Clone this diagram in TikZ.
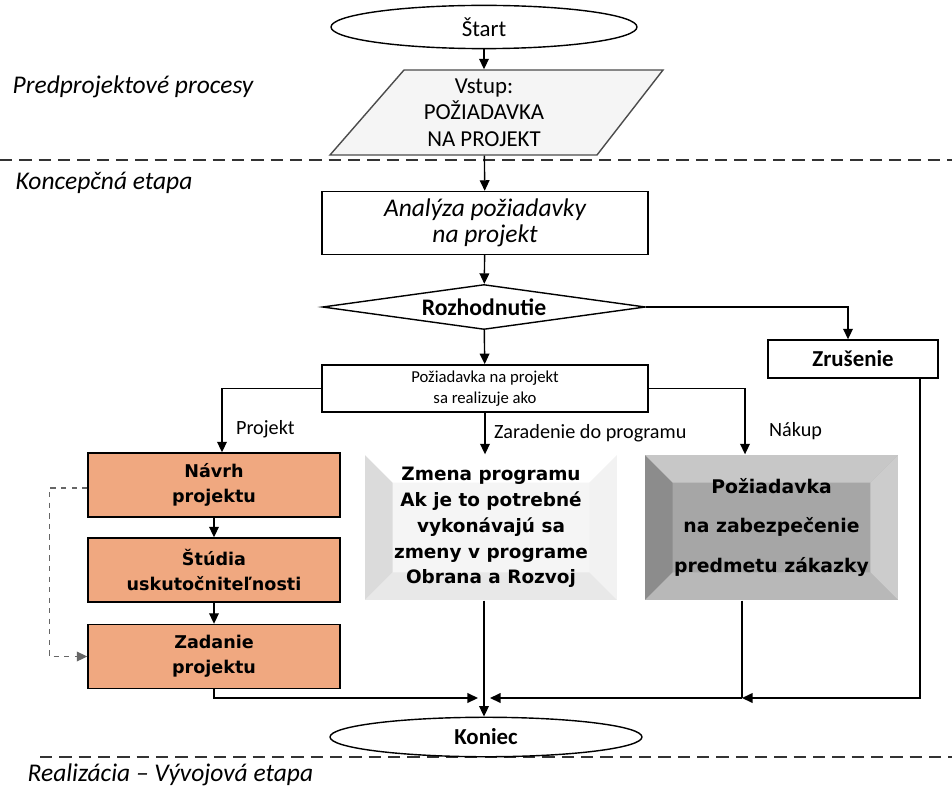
\documentclass[tikz,border=0pt]{standalone}
\usepackage{fontspec}
\setmainfont{Carlito}
\newfontfamily\boxfont{DejaVu Sans}
\usetikzlibrary{shapes.geometric,arrows.meta}
\definecolor{oranzova}{RGB}{240,168,128}
\tikzset{
  krok/.style={draw, rectangle, minimum width=6.52cm, minimum height=1.26cm, align=center},
  oranz/.style={draw, fill=oranzova, minimum width=5.04cm, minimum height=1.28cm, align=center,
    font=\boxfont\bfseries\fontsize{10}{14}\selectfont},
  fazeta/.style n args={5}{fill=#5, path picture={
    \path (path picture bounding box.north west) coordinate (pa)
          (path picture bounding box.north east) coordinate (pb)
          (path picture bounding box.south east) coordinate (pc)
          (path picture bounding box.south west) coordinate (pd);
    \fill[#1] (pa) -- (pd) -- ([shift={(0.55cm,0.55cm)}]pd) -- ([shift={(0.55cm,-0.55cm)}]pa) -- cycle;
    \fill[#2] (pa) -- (pb) -- ([shift={(-0.55cm,-0.55cm)}]pb) -- ([shift={(0.55cm,-0.55cm)}]pa) -- cycle;
    \fill[#3] (pb) -- (pc) -- ([shift={(-0.55cm,0.55cm)}]pc) -- ([shift={(-0.55cm,-0.55cm)}]pb) -- cycle;
    \fill[#4] (pc) -- (pd) -- ([shift={(0.55cm,0.55cm)}]pd) -- ([shift={(-0.55cm,0.55cm)}]pc) -- cycle;
  }},
  vetva/.style={right, xshift=0.15cm, font=\fontsize{11.5}{13}\selectfont},
  etapa/.style={anchor=west, inner sep=0, font=\itshape\fontsize{14.5}{16}\selectfont}
}
\begin{document}
\begin{tikzpicture}[x=0.02cm, y=-0.02cm, line width=0.8pt, >={Triangle[length=6pt,width=5.5pt]}]
  \useasboundingbox (0,0) rectangle (952,787);
  \draw[dashed, line width=1.2pt, dash pattern=on 7pt off 4pt, black!80] (0,160) -- (952,160);
  \draw[dashed, line width=1.2pt, dash pattern=on 7pt off 4pt, black!80] (40,757) -- (952,757);
  \node[etapa] (predproj) at (12,87) {Predprojektové procesy};
  \node[etapa] (koncep) at (15,183) {Koncepčná etapa};
  \node[etapa] (realizacia) at (27,775) {Realizácia – Vývojová etapa};

  \node[draw, ellipse, minimum width=6.12cm, minimum height=0.6cm, font=\fontsize{13}{15}\selectfont] (start) at (484,27) {Štart};
  \draw[fill=gray!8, draw=black!70] (404,70) -- (663,70) -- (597,155) -- (330,155) -- cycle;
  \node[align=center, minimum height=1.7cm, inner sep=0, font=\fontsize{13}{15}\selectfont] (vstup) at (484,112.5) {Vstup:\\POŽIADAVKA\\NA PROJEKT};
  \draw[->] (start) -- (vstup);
  \node[krok, font=\itshape\fontsize{14.5}{15}\selectfont] (analyza) at (485,223) {Analýza požiadavky\\na projekt};
  \draw[->] (vstup) -- (analyza);
  \node[draw, diamond, aspect=7, minimum width=6.46cm, minimum height=0.9cm, inner sep=0,
    font=\bfseries\fontsize{13.5}{15}\selectfont] (rozhod) at (484,307) {Rozhodnutie};
  \draw[->] (analyza) -- (rozhod);
  \node[draw, minimum width=3.4cm, minimum height=0.76cm, font=\bfseries\fontsize{13}{15}\selectfont] (zrusenie) at (853,359) {Zrušenie};
  \draw[->] (rozhod.east) -| ([xshift=-0.1cm]zrusenie.north);
  \node[krok, minimum height=0.94cm, font=\fontsize{9.5}{12}\selectfont] (ako) at (485,388.5) {Požiadavka na projekt\\sa realizuje ako};
  \draw[->] (rozhod) -- (ako);

  \node[oranz] (navrh) at (214,485) {Návrh\\projektu};
  \node[oranz] (studia) at (214,570) {Štúdia\\uskutočniteľnosti};
  \node[oranz] (zadanie) at (214,656.5) {Zadanie\\projektu};
  \draw[->] (ako.west) -| ([xshift=0.16cm]navrh.north) node[pos=0.82, vetva] (lprojekt) {Projekt};
  \draw[->] (navrh) -- (studia);
  \draw[->] (studia) -- (zadanie);
  \draw[->, dashed, black!60] ([yshift=-0.06cm]navrh.west) -- ++(-0.76cm,0) |- (zadanie.west);

  \node[fazeta={black!14}{white}{black!5}{black!9}{black!4}, minimum width=5.04cm, minimum height=2.9cm,
    align=center, font=\boxfont\bfseries\fontsize{10.5}{14.7}\selectfont] (zmena) at (491,527.5)
    {Zmena programu\\Ak je to potrebné\\vykonávajú sa\\zmeny v programe\\Obrana a Rozvoj};
  \draw[->] (ako) -- (ako |- zmena.north) node[midway, vetva, xshift=-0.1cm] (lzaradenie) {Zaradenie do programu};
  \node[fazeta={black!45}{black!22}{black!20}{black!28}{black!35}, minimum width=5.06cm, minimum height=2.9cm,
    align=center, font=\boxfont\bfseries\fontsize{10.7}{22.7}\selectfont] (pozad) at (771.5,527.5)
    {Požiadavka\\na zabezpečenie\\predmetu zákazky};
  \draw[->] (ako.east) -| ([xshift=-0.53cm]pozad.north) node[pos=0.82, vetva, xshift=0.2cm] (lnakup) {Nákup};

  \node[draw, ellipse, minimum width=6.24cm, minimum height=0.6cm, font=\bfseries\fontsize{13}{15}\selectfont] (koniec) at (486,737) {Koniec};
  \coordinate (spoj) at (484,698);
  \draw[->] (zadanie.south) |- ([xshift=-0.12cm]spoj);
  \draw[->] (zmena.south -| spoj) -- (koniec.north -| spoj);
  \draw ([xshift=-0.59cm]pozad.south) -- ([xshift=-0.59cm]pozad.south |- spoj) coordinate (zlom);
  \draw[->] ([xshift=1.34cm]zrusenie.south) |- (zlom);
  \draw[->] (zlom) -- ([xshift=0.12cm]spoj);
\end{tikzpicture}
\end{document}
